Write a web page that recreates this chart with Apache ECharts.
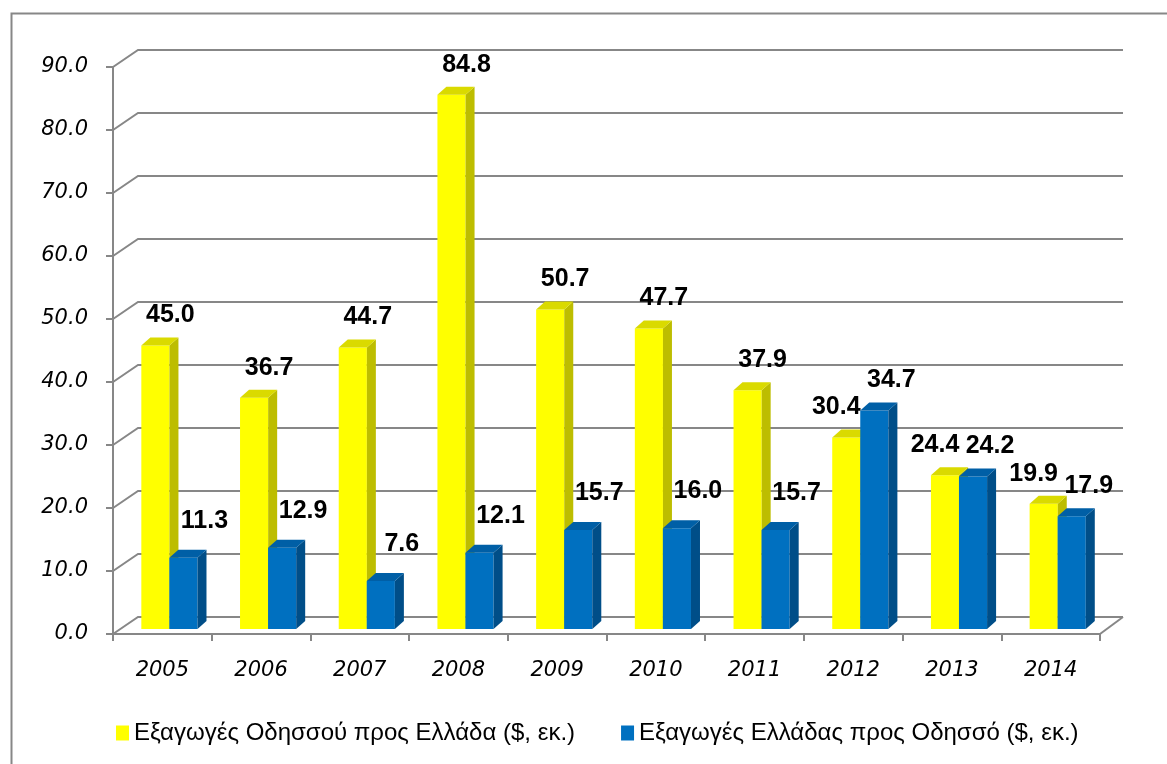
<!DOCTYPE html>
<html>
<head>
<meta charset="utf-8">
<script src="https://cdn.jsdelivr.net/npm/echarts@6/dist/echarts.min.js"></script>
<style>
  html, body { margin: 0; padding: 0; background: #ffffff; }
  #chart { width: 1167px; height: 764px; }
</style>
</head>
<body>
<div id="chart"></div>
<script>
const years = ['2005', '2006', '2007', '2008', '2009', '2010', '2011', '2012', '2013', '2014'];
const odessaToGreece = [45.0, 36.7, 44.7, 84.8, 50.7, 47.7, 37.9, 30.4, 24.4, 19.9];
const greeceToOdessa = [11.3, 12.9, 7.6, 12.1, 15.7, 16.0, 15.7, 34.7, 24.2, 17.9];
const yTicks = [0, 10, 20, 30, 40, 50, 60, 70, 80, 90];
const seriesNames = ['Εξαγωγές Οδησσού προς Ελλάδα ($, εκ.)', 'Εξαγωγές Ελλάδας προς Οδησσό ($, εκ.)'];

const DEPTH_X = 9, DEPTH_Y = -8;      // bar 3D depth
const WALL_X = 25, WALL_Y = -17;      // back wall offset
const BAR_SHIFT_Y = -5;
const GRID_COLOR = '#878787';

const yellowStyle = { front: '#FFFF00', side: '#BDBD00', top: '#DADA00' };
const blueStyle = { front: '#0070C0', side: '#004E88', top: '#005FA6' };

function makeBarRenderer(which) {
  const style = which === 0 ? yellowStyle : blueStyle;
  return function (params, api) {
    const i = api.value(0);
    const v = api.value(1);
    const bandW = api.size([1, 0])[0];
    const base = api.coord([i, 0]);
    const topPt = api.coord([i, v]);
    const w = bandW * 0.285;
    const x0 = base[0] + (which === 0 ? -bandW * 0.213 : bandW * 0.071);
    const yb = base[1] + BAR_SHIFT_Y;
    const yt = topPt[1] + BAR_SHIFT_Y;
    const collide = Math.abs(odessaToGreece[i] - greeceToOdessa[i]) < 8;
    let lx, ly;
    if (which === 0) {
      lx = x0 + w / 2 + (collide ? -10 : 15);
      ly = yt - 30;
    } else {
      lx = x0 + w / 2 + (collide ? 17 : 21);
      ly = yt - (collide ? 30 : 37);
    }
    return {
      type: 'group',
      children: [
        { type: 'rect', shape: { x: x0, y: yt, width: w, height: yb - yt }, style: { fill: style.front } },
        { type: 'polygon', shape: { points: [[x0 + w, yt], [x0 + w + DEPTH_X, yt + DEPTH_Y], [x0 + w + DEPTH_X, yb + DEPTH_Y], [x0 + w, yb]] }, style: { fill: style.side } },
        { type: 'polygon', shape: { points: [[x0, yt], [x0 + DEPTH_X, yt + DEPTH_Y], [x0 + w + DEPTH_X, yt + DEPTH_Y], [x0 + w, yt]] }, style: { fill: style.top } },
        { type: 'text', x: lx, y: ly, style: { text: v.toFixed(1), fill: '#000', font: 'bold 25px "Liberation Sans", Arial, sans-serif', align: 'center', verticalAlign: 'middle' } }
      ]
    };
  };
}

function renderGrid(params, api) {
  const cs = params.coordSys;
  const v = api.value(1);
  const y = api.coord([0, v])[1];
  const left = cs.x, right = cs.x + cs.width;
  const children = [
    { type: 'polyline', shape: { points: [[left, y], [left + WALL_X, y + WALL_Y], [right + WALL_X - 2, y + WALL_Y]] }, style: { stroke: GRID_COLOR, lineWidth: 2, fill: null } }
  ];
  if (v === 0) {
    children.push({ type: 'line', shape: { x1: right, y1: y, x2: right + WALL_X - 2, y2: y + WALL_Y }, style: { stroke: GRID_COLOR, lineWidth: 2 } });
  }
  return { type: 'group', children: children };
}

const chart = echarts.init(document.getElementById('chart'), null, { renderer: 'canvas' });
const option = {
  backgroundColor: '#ffffff',
  animation: false,
  graphic: [
    { type: 'rect', left: 9, top: 11, shape: { width: 1200, height: 800 }, style: { fill: null, stroke: GRID_COLOR, lineWidth: 2 }, z: 0 }
  ],
  grid: { left: 113, right: 67, top: 67, bottom: 130, containLabel: false },
  legend: {
    data: seriesNames,
    left: 111,
    top: 716,
    icon: 'rect',
    itemWidth: 13,
    itemHeight: 15,
    itemGap: 46,
    textStyle: { fontFamily: '"Liberation Sans", Arial, sans-serif', fontSize: 24, color: '#000' }
  },
  xAxis: {
    type: 'category',
    data: years,
    boundaryGap: true,
    axisLine: { show: true, lineStyle: { color: GRID_COLOR, width: 2 } },
    axisTick: { show: true, length: 7, alignWithLabel: false, lineStyle: { color: GRID_COLOR, width: 2 } },
    axisLabel: { margin: 26, fontFamily: '"DejaVu Sans", sans-serif', fontStyle: 'italic', fontSize: 21, color: '#000' },
    splitLine: { show: false }
  },
  yAxis: {
    type: 'value',
    min: 0,
    max: 90,
    interval: 10,
    axisLine: { show: true, lineStyle: { color: GRID_COLOR, width: 2 } },
    axisTick: { show: true, length: 7, lineStyle: { color: GRID_COLOR, width: 2 } },
    axisLabel: { margin: 25, fontFamily: '"DejaVu Sans", sans-serif', fontStyle: 'italic', fontSize: 21, color: '#000', formatter: function (val) { return val.toFixed(1); } },
    splitLine: { show: false }
  },
  series: [
    { type: 'custom', name: 'grid', renderItem: renderGrid, data: yTicks.map(function (t) { return [0, t]; }), encode: { x: 0, y: 1 }, z: 1, silent: true },
    { type: 'custom', name: seriesNames[0], renderItem: makeBarRenderer(0), data: odessaToGreece.map(function (v, i) { return [i, v]; }), encode: { x: 0, y: 1 }, itemStyle: { color: '#FFFF00' }, z: 3 },
    { type: 'custom', name: seriesNames[1], renderItem: makeBarRenderer(1), data: greeceToOdessa.map(function (v, i) { return [i, v]; }), encode: { x: 0, y: 1 }, itemStyle: { color: '#0070C0' }, z: 4 }
  ]
};
chart.setOption(option);
</script>
</body>
</html>
